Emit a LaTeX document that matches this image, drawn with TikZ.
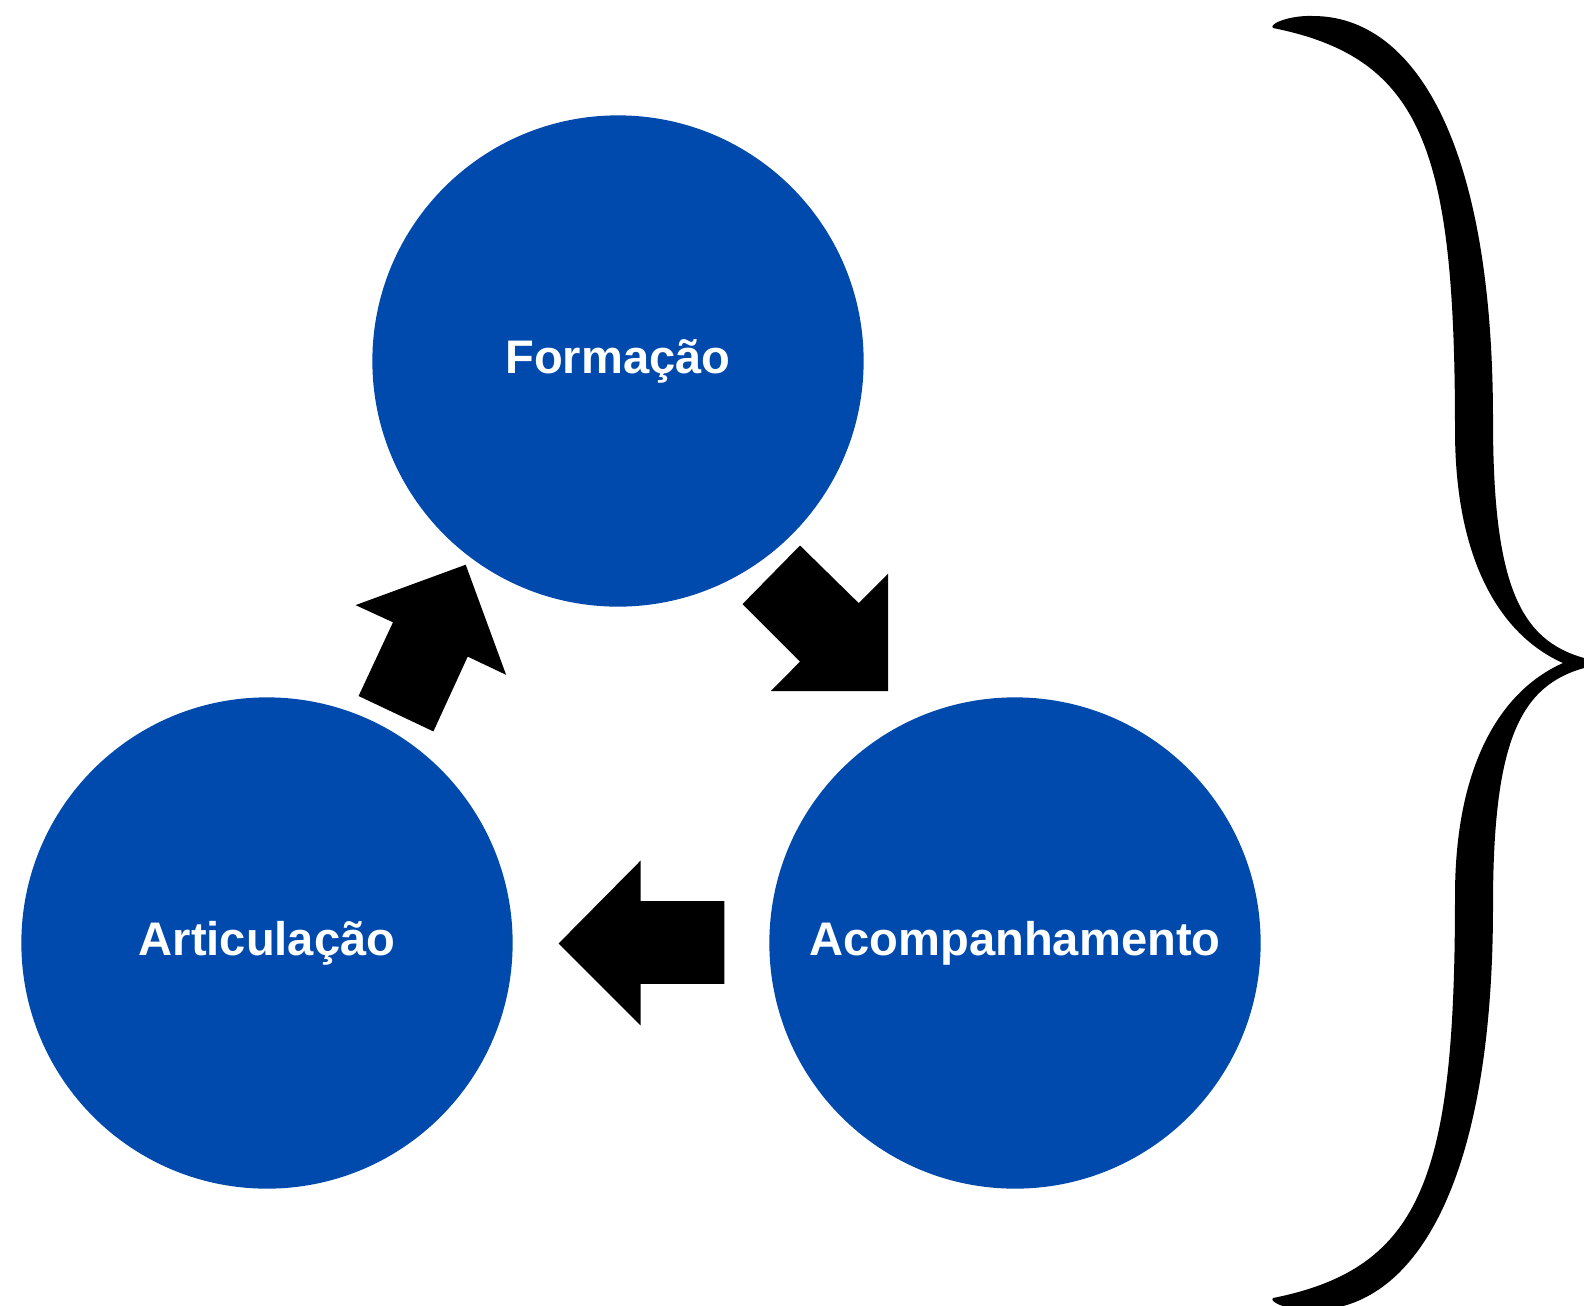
\documentclass[tikz,border=0pt]{standalone}
\usepackage{fontspec}
\setmainfont{Liberation Sans}
\usepackage{tikz}
\definecolor{ciclo}{RGB}{0,74,173}

\begin{document}
\begin{tikzpicture}[x=0.01cm, y=-0.01cm,
		etapa/.style={circle, fill=ciclo, minimum size=4.91cm, inner sep=0pt, text=white, font=\fontsize{13.4}{16}\selectfont\bfseries},
		seta/.style={fill=black, draw=none}]
		%%%%% START %%%%%
		\useasboundingbox (0, 0) rectangle (1584, 1305);
		
		\node[etapa] (formacao) at (618, 361) {Formação};
		\node[etapa] (articulacao) at (267, 943) {Articulação};
		\node[etapa] (acompanhamento) at (1015, 943) {Acompanhamento};
		
		% formacao -> acompanhamento
		\fill[seta] (800, 545.5) -- (858.7, 603.1) -- (888, 573.8) -- (888, 691) -- (770.8, 691) -- (800, 661.7) -- (742.5, 604.1) -- cycle;
		
		% acompanhamento -> articulacao
		\fill[seta] (640.5, 860.7) -- (640.5, 901.1) -- (724.3, 901.1) -- (724.3, 983.9) -- (640.5, 983.9) -- (640.5, 1025.4) -- (558.6, 943.5) -- cycle;
		
		% articulacao -> formacao
		\fill[seta] (465.7, 564.7) -- (506.1, 674.8) -- (467.7, 656.6) -- (433.4, 731.4) -- (358.6, 696) -- (393, 622.3) -- (355.6, 605.1) -- cycle;
		
		% chave
		\fill (1273, 28) .. controls (1268, 24) and (1290, 15) .. (1313, 16)
			.. controls (1413, 16) and (1493, 140) .. (1493, 420)
			.. controls (1493, 585) and (1520, 640) .. (1584, 658)
			-- (1584, 668)
			.. controls (1520, 686) and (1493, 741) .. (1493, 906)
			.. controls (1493, 1186) and (1413, 1310) .. (1313, 1310)
			.. controls (1290, 1311) and (1268, 1302) .. (1273, 1298)
			.. controls (1423, 1268) and (1455, 1176) .. (1455, 896)
			.. controls (1455, 766) and (1500, 691) .. (1563, 663)
			.. controls (1500, 635) and (1455, 560) .. (1455, 430)
			.. controls (1455, 150) and (1423, 58) .. (1273, 28) -- cycle;
		%%%%% END %%%%%
	\end{tikzpicture}
\end{document}
